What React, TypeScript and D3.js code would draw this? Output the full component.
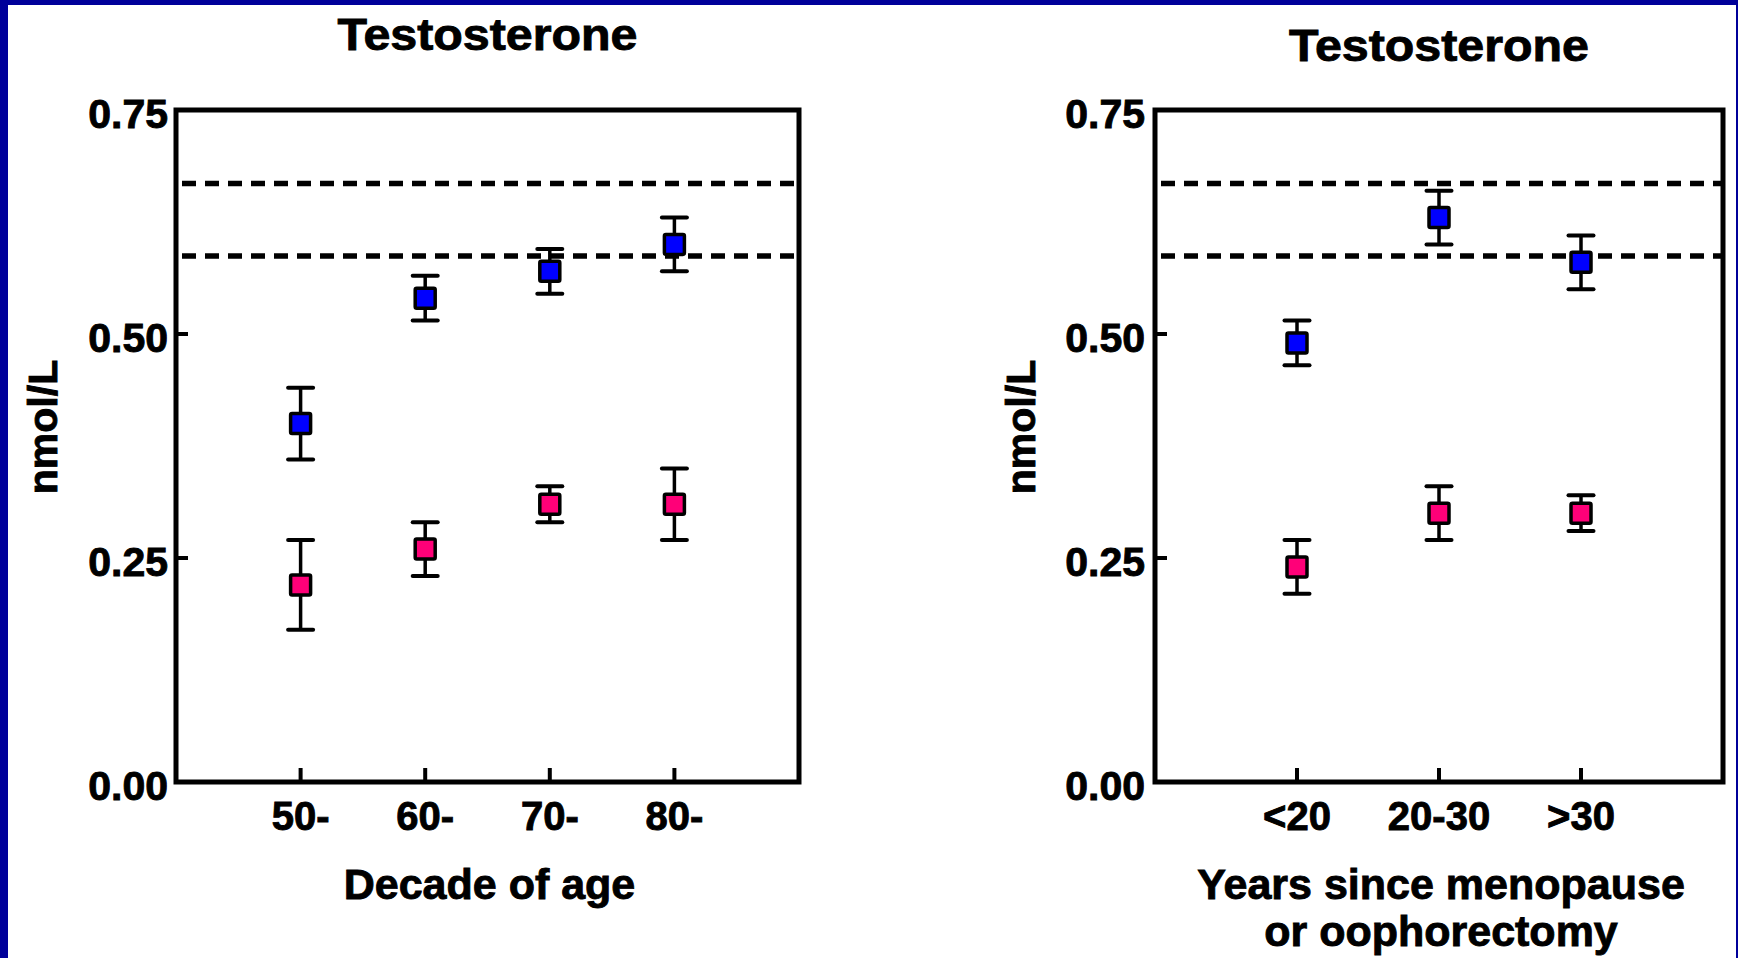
import React from "react";
import * as d3 from "d3";

// ---- data ----
const yTickValues = [0, 0.25, 0.5, 0.75];
const yTickLabels = ["0.00", "0.25", "0.50", "0.75"];
const referenceLines = [0.668, 0.587];

const ageCategories = ["50-", "60-", "70-", "80-"];
const ageBlueMean = [0.40, 0.54, 0.57, 0.60];
const ageBlueErr = [0.04, 0.025, 0.025, 0.03];
const agePinkMean = [0.22, 0.26, 0.31, 0.31];
const agePinkErr = [0.05, 0.03, 0.02, 0.04];

const menoCategories = ["<20", "20-30", ">30"];
const menoBlueMean = [0.49, 0.63, 0.58];
const menoBlueErr = [0.025, 0.03, 0.03];
const menoPinkMean = [0.24, 0.30, 0.30];
const menoPinkErr = [0.03, 0.03, 0.02];

const BLUE = "#0000ff";
const PINK = "#ff0078";
const FRAME = "#00009a";
const FONT = "'Liberation Sans', Arial, Helvetica, sans-serif";

type Series = { mean: number[]; err: number[]; color: string };
type PanelProps = {
  left: number;
  right: number;
  categories: string[];
  series: Series[];
  title: string;
  titleY: number;
  xTitle: string[];
  yLabelX: number;
  tickLabelGap: number;
};

const TOP = 110;
const BOTTOM = 782;
const TXT = { fontFamily: FONT, fontWeight: "bold" as const, stroke: "#000", strokeWidth: 0.9 };

function Panel(p: PanelProps) {
  const y = d3.scaleLinear().domain([0, 0.75]).range([BOTTOM, TOP]);
  const x = d3.scalePoint<string>().domain(p.categories).range([p.left, p.right]).padding(1);
  const cx = (p.left + p.right) / 2;
  const box = 20;
  const capW = 25;
  return (
    <g>
      <text x={cx} y={p.titleY} textAnchor="middle" {...TXT} fontSize={45} textLength={300} lengthAdjust="spacingAndGlyphs">
        {p.title}
      </text>
      {/* reference dashed lines */}
      {referenceLines.map((v, i) => (
        <line key={"r" + i} x1={p.left} x2={p.right} y1={y(v)} y2={y(v)} stroke="#000" strokeWidth={5.5} strokeDasharray="14 9" strokeDashoffset={-6} />
      ))}
      {/* frame */}
      <rect x={p.left} y={TOP} width={p.right - p.left} height={BOTTOM - TOP} fill="none" stroke="#000" strokeWidth={5} />
      {/* y ticks inward */}
      {yTickValues.map((v, i) => (
        <g key={"yt" + i}>
          <line x1={p.left} x2={p.left + 12} y1={y(v)} y2={y(v)} stroke="#000" strokeWidth={4} />
          <text x={p.left - p.tickLabelGap} y={y(v) + 18} textAnchor="end" {...TXT} fontSize={41}>
            {yTickLabels[i]}
          </text>
        </g>
      ))}
      {/* x ticks inward */}
      {p.categories.map((c) => (
        <g key={"xt" + c}>
          <line x1={x(c)} x2={x(c)} y1={BOTTOM} y2={BOTTOM - 14} stroke="#000" strokeWidth={4} />
          <text x={x(c)} y={830} textAnchor="middle" {...TXT} fontSize={40}>
            {c}
          </text>
        </g>
      ))}
      {/* y label */}
      <text transform={`translate(${p.yLabelX},${427}) rotate(-90)`} textAnchor="middle" {...TXT} fontSize={41}>
        nmol/L
      </text>
      {/* x title */}
      {p.xTitle.map((t, i) => (
        <text key={"xl" + i} x={cx + 2} y={899 + i * 47} textAnchor="middle" {...TXT} fontSize={43}>
          {t}
        </text>
      ))}
      {/* data */}
      {p.series.map((s, si) =>
        p.categories.map((c, i) => {
          const xc = x(c) as number;
          const yc = y(s.mean[i]);
          const yHi = y(s.mean[i] + s.err[i]);
          const yLo = y(s.mean[i] - s.err[i]);
          return (
            <g key={"d" + si + "-" + i}>
              <line x1={xc} x2={xc} y1={yHi} y2={yLo} stroke="#000" strokeWidth={3.5} />
              <line x1={xc - capW / 2} x2={xc + capW / 2} y1={yHi} y2={yHi} stroke="#000" strokeWidth={4} strokeLinecap="round" />
              <line x1={xc - capW / 2} x2={xc + capW / 2} y1={yLo} y2={yLo} stroke="#000" strokeWidth={4} strokeLinecap="round" />
              <rect x={xc - box / 2} y={yc - box / 2} width={box} height={box} rx={1.5} fill={s.color} stroke="#000" strokeWidth={3.5} />
            </g>
          );
        })
      )}
    </g>
  );
}

export default function App() {
  return (
    <div style={{ position: "absolute", left: 0, top: 0 }}>
      <svg width={1738} height={958} style={{ display: "block" }}>
        <rect x={0} y={0} width={1738} height={958} fill="#fff" />
        <rect x={0} y={0} width={1738} height={5} fill={FRAME} />
        <rect x={0} y={0} width={8} height={958} fill={FRAME} />
        <rect x={1736} y={0} width={2} height={958} fill={FRAME} />
        <Panel
          left={176}
          right={799}
          categories={ageCategories}
          series={[
            { mean: ageBlueMean, err: ageBlueErr, color: BLUE },
            { mean: agePinkMean, err: agePinkErr, color: PINK },
          ]}
          title="Testosterone"
          titleY={50}
          xTitle={["Decade of age"]}
          yLabelX={57}
          tickLabelGap={8}
        />
        <Panel
          left={1155}
          right={1723}
          categories={menoCategories}
          series={[
            { mean: menoBlueMean, err: menoBlueErr, color: BLUE },
            { mean: menoPinkMean, err: menoPinkErr, color: PINK },
          ]}
          title="Testosterone"
          titleY={61}
          xTitle={["Years since menopause", "or oophorectomy"]}
          yLabelX={1035}
          tickLabelGap={10}
        />
      </svg>
    </div>
  );
}
